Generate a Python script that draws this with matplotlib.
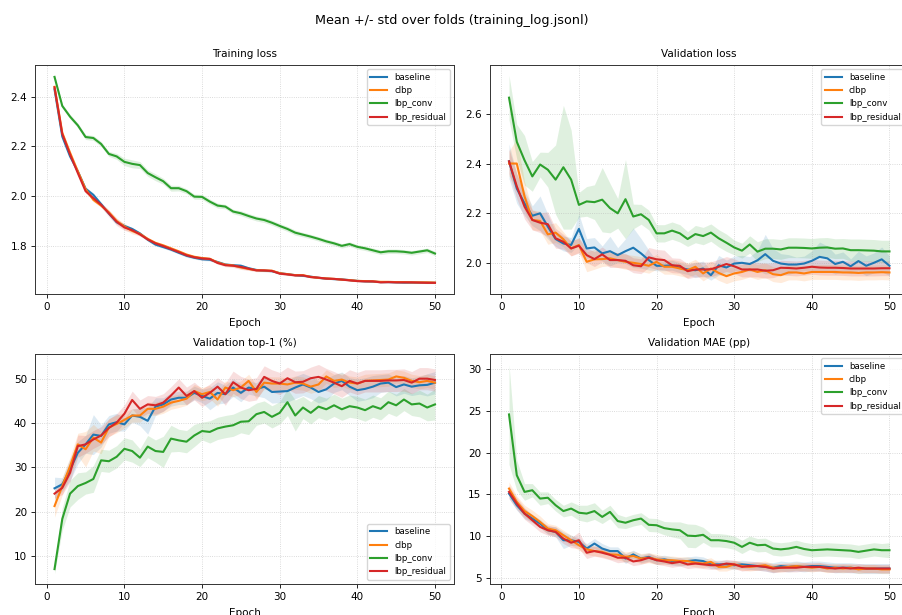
import numpy as np
import matplotlib
matplotlib.use("Agg")
import matplotlib.pyplot as plt

# ! data (mean and std over folds)
epochs = np.arange(1, 51)
models = ["baseline", "clbp", "lbp_conv", "lbp_residual"]

train_loss_baseline = [2.430, 2.240, 2.160, 2.100, 2.030, 2.005, 1.968, 1.930, 1.895, 1.880,
                       1.868, 1.850, 1.825, 1.805, 1.795, 1.785, 1.772, 1.760, 1.752, 1.746,
                       1.744, 1.735, 1.725, 1.722, 1.720, 1.710, 1.703, 1.700, 1.698, 1.690,
                       1.686, 1.682, 1.679, 1.676, 1.671, 1.668, 1.666, 1.665, 1.662, 1.659,
                       1.657, 1.656, 1.654, 1.654, 1.653, 1.652, 1.652, 1.652, 1.652, 1.651]
train_loss_clbp = [2.440, 2.255, 2.175, 2.100, 2.028, 1.985, 1.962, 1.935, 1.900, 1.878,
                   1.860, 1.848, 1.828, 1.812, 1.802, 1.790, 1.778, 1.765, 1.756, 1.751,
                   1.748, 1.733, 1.724, 1.721, 1.713, 1.707, 1.702, 1.701, 1.700, 1.690,
                   1.686, 1.682, 1.682, 1.675, 1.671, 1.669, 1.667, 1.664, 1.662, 1.659,
                   1.658, 1.657, 1.655, 1.655, 1.654, 1.654, 1.653, 1.653, 1.653, 1.652]
train_loss_lbp_conv = [2.480, 2.363, 2.320, 2.285, 2.238, 2.234, 2.210, 2.170, 2.160, 2.138,
                       2.130, 2.125, 2.093, 2.076, 2.060, 2.032, 2.032, 2.020, 1.998, 1.997,
                       1.978, 1.962, 1.958, 1.938, 1.931, 1.920, 1.910, 1.904, 1.893, 1.880,
                       1.868, 1.853, 1.845, 1.837, 1.828, 1.818, 1.810, 1.800, 1.807, 1.796,
                       1.790, 1.782, 1.774, 1.778, 1.778, 1.776, 1.772, 1.777, 1.782, 1.769]
train_loss_lbp_residual = [2.438, 2.250, 2.168, 2.093, 2.020, 1.992, 1.965, 1.931, 1.897, 1.874,
                           1.863, 1.846, 1.826, 1.810, 1.799, 1.787, 1.775, 1.762, 1.754, 1.749,
                           1.747, 1.731, 1.722, 1.720, 1.715, 1.708, 1.701, 1.701, 1.699, 1.688,
                           1.685, 1.681, 1.681, 1.674, 1.672, 1.668, 1.667, 1.664, 1.661, 1.658,
                           1.657, 1.657, 1.653, 1.654, 1.653, 1.653, 1.653, 1.652, 1.651, 1.651]

train_std_baseline = [0.004, 0.006, 0.006, 0.006, 0.007, 0.008, 0.006, 0.007, 0.008, 0.007,
                      0.006, 0.006, 0.007, 0.006, 0.005, 0.006, 0.005, 0.006, 0.005, 0.005,
                      0.005, 0.005, 0.005, 0.005, 0.006, 0.005, 0.004, 0.004, 0.004, 0.004,
                      0.004, 0.004, 0.003, 0.003, 0.003, 0.003, 0.003, 0.003, 0.003, 0.003,
                      0.003, 0.003, 0.003, 0.003, 0.003, 0.003, 0.003, 0.003, 0.003, 0.003]
train_std_clbp = [0.005, 0.006, 0.007, 0.007, 0.008, 0.008, 0.007, 0.008, 0.010, 0.012,
                  0.012, 0.008, 0.007, 0.006, 0.006, 0.006, 0.005, 0.005, 0.005, 0.005,
                  0.005, 0.005, 0.005, 0.005, 0.005, 0.005, 0.004, 0.004, 0.004, 0.004,
                  0.004, 0.004, 0.003, 0.003, 0.003, 0.003, 0.003, 0.003, 0.003, 0.003,
                  0.003, 0.003, 0.003, 0.003, 0.003, 0.003, 0.003, 0.003, 0.003, 0.003]
train_std_lbp_conv = [0.006, 0.008, 0.009, 0.009, 0.010, 0.010, 0.010, 0.010, 0.012, 0.015,
                      0.016, 0.014, 0.013, 0.014, 0.012, 0.012, 0.011, 0.010, 0.010, 0.010,
                      0.010, 0.010, 0.009, 0.009, 0.010, 0.010, 0.010, 0.010, 0.010, 0.010,
                      0.010, 0.010, 0.009, 0.009, 0.009, 0.009, 0.009, 0.009, 0.009, 0.009,
                      0.009, 0.009, 0.009, 0.009, 0.009, 0.009, 0.009, 0.009, 0.009, 0.009]
train_std_lbp_residual = [0.005, 0.006, 0.006, 0.007, 0.008, 0.008, 0.010, 0.014, 0.015, 0.012,
                          0.008, 0.007, 0.006, 0.006, 0.006, 0.006, 0.005, 0.005, 0.005, 0.006,
                          0.006, 0.005, 0.006, 0.007, 0.010, 0.007, 0.005, 0.005, 0.004, 0.004,
                          0.004, 0.004, 0.003, 0.003, 0.003, 0.003, 0.003, 0.003, 0.003, 0.003,
                          0.003, 0.003, 0.003, 0.003, 0.003, 0.003, 0.003, 0.003, 0.003, 0.003]

val_loss_baseline = [2.410, 2.300, 2.240, 2.190, 2.200, 2.146, 2.096, 2.078, 2.072, 2.137,
                     2.058, 2.062, 2.038, 2.047, 2.031, 2.047, 2.061, 2.038, 2.011, 1.988,
                     1.988, 1.990, 1.980, 1.973, 1.970, 1.977, 1.950, 1.990, 1.981, 1.997,
                     2.000, 1.995, 2.010, 2.035, 2.008, 1.997, 1.993, 1.993, 1.997, 2.008,
                     2.024, 2.018, 1.995, 2.004, 1.986, 2.007, 1.988, 2.000, 2.014, 1.988]
val_loss_clbp = [2.401, 2.401, 2.268, 2.173, 2.169, 2.115, 2.122, 2.095, 2.058, 2.072,
                 2.004, 2.014, 2.015, 2.018, 2.011, 2.004, 2.000, 1.995, 1.988, 2.004,
                 1.984, 1.984, 1.977, 1.970, 1.984, 1.957, 1.977, 1.959, 1.946, 1.957,
                 1.963, 1.973, 1.963, 1.970, 1.954, 1.950, 1.961, 1.961, 1.957, 1.963,
                 1.963, 1.963, 1.963, 1.961, 1.961, 1.959, 1.961, 1.961, 1.962, 1.961]
val_loss_lbp_conv = [2.667, 2.489, 2.414, 2.349, 2.397, 2.376, 2.336, 2.386, 2.336, 2.234,
                     2.248, 2.245, 2.255, 2.221, 2.200, 2.257, 2.187, 2.196, 2.173, 2.119,
                     2.119, 2.130, 2.119, 2.096, 2.116, 2.108, 2.122, 2.099, 2.081, 2.062,
                     2.049, 2.074, 2.045, 2.057, 2.057, 2.054, 2.061, 2.061, 2.060, 2.058,
                     2.061, 2.062, 2.057, 2.058, 2.051, 2.051, 2.050, 2.049, 2.046, 2.046]
val_loss_lbp_residual = [2.410, 2.309, 2.227, 2.173, 2.162, 2.156, 2.099, 2.085, 2.058, 2.069,
                         2.031, 2.015, 2.034, 2.011, 2.011, 2.008, 1.990, 1.986, 2.022, 2.014,
                         2.011, 1.990, 1.988, 1.966, 1.973, 1.973, 1.974, 1.984, 1.995, 1.986,
                         1.973, 1.973, 1.973, 1.968, 1.970, 1.980, 1.979, 1.977, 1.980, 1.984,
                         1.981, 1.980, 1.980, 1.979, 1.977, 1.977, 1.977, 1.977, 1.978, 1.978]

val_std_baseline = [0.07, 0.06, 0.05, 0.04, 0.07, 0.05, 0.03, 0.03, 0.03, 0.06,
                    0.04, 0.04, 0.03, 0.06, 0.03, 0.05, 0.08, 0.06, 0.04, 0.02,
                    0.02, 0.02, 0.02, 0.02, 0.03, 0.03, 0.02, 0.04, 0.03, 0.03,
                    0.03, 0.03, 0.04, 0.08, 0.05, 0.04, 0.04, 0.03, 0.03, 0.04,
                    0.06, 0.05, 0.04, 0.04, 0.03, 0.04, 0.04, 0.04, 0.05, 0.04]
val_std_clbp = [0.05, 0.10, 0.06, 0.04, 0.04, 0.04, 0.04, 0.03, 0.03, 0.03,
                0.04, 0.04, 0.03, 0.03, 0.03, 0.03, 0.03, 0.03, 0.03, 0.03,
                0.03, 0.03, 0.03, 0.03, 0.03, 0.03, 0.03, 0.03, 0.03, 0.03,
                0.03, 0.03, 0.03, 0.03, 0.03, 0.03, 0.03, 0.03, 0.03, 0.03,
                0.03, 0.03, 0.03, 0.03, 0.03, 0.03, 0.03, 0.03, 0.03, 0.03]
val_std_lbp_conv = [0.09, 0.07, 0.10, 0.06, 0.05, 0.07, 0.14, 0.25, 0.20, 0.05,
                    0.06, 0.07, 0.13, 0.10, 0.06, 0.16, 0.05, 0.04, 0.04, 0.035,
                    0.035, 0.035, 0.035, 0.03, 0.035, 0.035, 0.035, 0.035, 0.035, 0.03,
                    0.03, 0.035, 0.04, 0.04, 0.04, 0.04, 0.04, 0.04, 0.04, 0.04,
                    0.04, 0.04, 0.04, 0.04, 0.045, 0.045, 0.045, 0.045, 0.045, 0.045]
val_std_lbp_residual = [0.05, 0.05, 0.05, 0.04, 0.04, 0.05, 0.04, 0.03, 0.03, 0.03,
                        0.03, 0.03, 0.03, 0.03, 0.03, 0.03, 0.03, 0.03, 0.04, 0.04,
                        0.04, 0.03, 0.03, 0.03, 0.03, 0.03, 0.03, 0.03, 0.03, 0.03,
                        0.03, 0.03, 0.03, 0.03, 0.03, 0.03, 0.03, 0.03, 0.03, 0.03,
                        0.03, 0.03, 0.03, 0.03, 0.03, 0.03, 0.03, 0.03, 0.03, 0.03]

top1_baseline = [25.3, 26.2, 29.5, 33.3, 35.2, 37.4, 37.1, 39.7, 40.2, 39.7,
                 41.7, 41.4, 40.5, 43.7, 44.2, 45.3, 45.7, 45.7, 46.8, 46.1,
                 45.5, 46.8, 46.5, 48.0, 46.8, 48.0, 47.6, 48.2, 47.0, 47.1,
                 47.2, 48.0, 48.7, 48.0, 47.0, 47.6, 48.9, 49.5, 48.2, 47.4,
                 47.7, 48.2, 48.9, 49.1, 48.1, 48.7, 48.2, 48.5, 48.6, 49.1]
top1_clbp = [21.3, 25.8, 30.3, 35.2, 34.1, 36.7, 35.6, 39.0, 39.8, 40.7,
             41.7, 41.7, 43.2, 43.2, 43.7, 44.6, 45.0, 45.5, 47.2, 46.5,
             47.0, 45.3, 48.0, 47.4, 48.0, 49.5, 47.0, 49.1, 48.9, 48.9,
             48.7, 49.1, 48.9, 48.2, 48.7, 50.5, 49.5, 49.8, 49.1, 48.9,
             49.5, 49.6, 49.7, 49.8, 50.5, 50.2, 49.5, 49.2, 49.5, 49.1]
top1_lbp_conv = [7.1, 18.4, 24.1, 25.8, 26.5, 27.4, 31.6, 31.4, 32.4, 34.2,
                 33.7, 32.2, 34.7, 33.7, 33.5, 36.5, 36.1, 35.8, 37.2, 38.2,
                 38.0, 38.8, 39.2, 39.5, 40.3, 40.4, 42.0, 42.5, 41.4, 42.3,
                 44.7, 41.7, 43.5, 42.3, 43.7, 43.1, 44.0, 43.1, 43.8, 43.5,
                 42.9, 43.8, 43.2, 44.7, 44.0, 45.3, 44.2, 44.4, 43.5, 44.2]
top1_lbp_residual = [24.1, 25.4, 28.8, 34.8, 35.2, 36.3, 37.2, 38.9, 40.1, 42.1,
                     45.2, 43.2, 44.2, 44.0, 44.6, 46.2, 48.0, 46.1, 47.2, 45.7,
                     46.8, 48.2, 46.5, 49.2, 48.0, 47.4, 47.7, 50.4, 49.5, 48.9,
                     50.1, 49.2, 49.3, 50.1, 50.4, 49.8, 49.1, 48.3, 49.5, 48.9,
                     49.5, 49.5, 49.5, 49.6, 49.6, 49.7, 49.1, 50.0, 50.0, 49.7]

top1_std_baseline = [2.5, 1.5, 2.5, 2.5, 2.0, 4.5, 2.5, 2.0, 2.0, 1.5,
                     1.5, 2.0, 3.0, 2.0, 1.5, 1.5, 1.5, 1.5, 1.5, 1.5,
                     2.5, 2.5, 2.0, 2.0, 2.0, 1.5, 1.5, 2.5, 2.5, 2.5,
                     2.5, 2.5, 2.5, 2.5, 2.5, 2.5, 2.0, 2.0, 2.0, 2.5,
                     2.5, 2.5, 2.0, 2.0, 2.0, 2.0, 2.0, 2.0, 2.5, 2.5]
top1_std_clbp = [2.5, 2.0, 2.0, 2.5, 4.0, 3.0, 2.5, 2.0, 2.0, 1.8,
                 1.5, 1.5, 1.5, 1.5, 1.5, 1.5, 1.5, 1.5, 1.5, 1.5,
                 1.5, 1.5, 1.5, 1.5, 1.5, 1.5, 1.5, 1.5, 1.5, 1.5,
                 1.5, 1.5, 1.5, 1.5, 1.5, 1.5, 1.5, 1.5, 1.5, 1.5,
                 1.5, 1.5, 1.5, 1.5, 1.5, 1.5, 1.5, 1.5, 1.5, 1.5]
top1_std_lbp_conv = [1.0, 2.5, 3.0, 3.0, 2.5, 3.0, 2.5, 2.5, 2.5, 2.5,
                     2.5, 2.0, 2.5, 2.5, 3.5, 3.0, 2.5, 2.5, 2.5, 2.0,
                     2.5, 2.5, 2.5, 2.5, 2.5, 3.0, 2.5, 2.5, 2.5, 2.5,
                     3.0, 3.5, 2.5, 2.5, 2.5, 2.5, 2.5, 2.5, 2.5, 2.5,
                     2.5, 2.5, 2.5, 2.5, 2.5, 2.5, 2.5, 3.0, 3.0, 3.5]
top1_std_lbp_residual = [1.0, 1.5, 2.0, 2.5, 2.0, 2.0, 2.0, 2.0, 2.0, 2.0,
                         2.0, 2.0, 2.0, 2.0, 2.0, 2.0, 2.0, 2.0, 2.0, 2.0,
                         2.0, 2.0, 2.5, 2.5, 2.5, 2.5, 2.5, 2.5, 2.5, 2.5,
                         2.5, 2.5, 2.5, 2.5, 2.8, 2.5, 2.5, 2.5, 2.5, 2.5,
                         2.5, 2.5, 2.5, 2.5, 2.5, 2.5, 2.5, 2.5, 2.5, 2.5]

mae_baseline = [15.1, 13.7, 12.7, 12.1, 11.5, 10.7, 10.5, 9.5, 9.5, 9.3,
                8.5, 9.1, 8.5, 8.2, 8.2, 7.3, 7.8, 7.3, 7.5, 7.1,
                7.2, 7.0, 6.9, 7.0, 7.1, 7.0, 6.6, 6.6, 6.6, 6.5,
                6.6, 6.5, 6.4, 6.3, 6.2, 6.4, 6.3, 6.4, 6.3, 6.4,
                6.4, 6.3, 6.2, 6.2, 6.2, 6.1, 6.1, 6.1, 6.1, 6.1]
mae_clbp = [15.7, 14.1, 13.0, 12.4, 11.7, 10.9, 10.7, 10.1, 9.5, 8.9,
            8.4, 8.2, 8.1, 7.8, 7.75, 7.5, 7.6, 7.3, 7.4, 7.2,
            7.1, 7.1, 7.0, 7.0, 6.8, 6.7, 6.9, 6.3, 6.3, 6.6,
            6.4, 6.3, 6.4, 6.5, 6.2, 6.2, 6.3, 6.4, 6.3, 6.2,
            6.3, 6.1, 6.2, 6.1, 6.2, 6.0, 6.1, 6.1, 6.0, 6.0]
mae_lbp_conv = [24.6, 17.3, 15.3, 15.5, 14.5, 14.6, 13.7, 13.0, 13.3, 12.8,
                12.7, 13.0, 12.3, 12.9, 11.8, 11.6, 11.9, 12.1, 11.35, 11.3,
                10.95, 10.8, 10.7, 10.05, 10.0, 10.15, 9.5, 9.5, 9.4, 9.2,
                8.7, 9.2, 8.9, 8.95, 8.5, 8.4, 8.5, 8.7, 8.45, 8.3,
                8.35, 8.4, 8.35, 8.3, 8.25, 8.1, 8.25, 8.4, 8.3, 8.3]
mae_lbp_residual = [15.3, 13.9, 12.7, 11.9, 11.1, 10.7, 10.5, 9.7, 9.2, 9.5,
                    8.0, 8.2, 8.0, 7.75, 7.4, 7.4, 6.95, 7.1, 7.4, 7.1,
                    6.95, 6.75, 6.9, 6.6, 6.7, 6.6, 6.5, 6.5, 6.7, 6.6,
                    6.3, 6.4, 6.4, 6.3, 6.1, 6.2, 6.2, 6.2, 6.3, 6.3,
                    6.3, 6.2, 6.1, 6.2, 6.1, 6.2, 6.1, 6.1, 6.1, 6.1]

mae_std_baseline = [0.6, 0.6, 0.6, 0.5, 0.5, 0.5, 0.6, 1.0, 0.6, 0.5,
                    0.6, 0.6, 0.6, 0.5, 0.5, 0.6, 0.5, 0.5, 0.5, 0.5,
                    0.5, 0.5, 0.5, 0.5, 0.5, 0.5, 0.5, 0.5, 0.5, 0.5,
                    0.5, 0.5, 0.5, 0.5, 0.6, 0.6, 0.6, 0.6, 0.6, 0.6,
                    0.6, 0.6, 0.6, 0.6, 0.6, 0.6, 0.6, 0.6, 0.6, 0.6]
mae_std_clbp = [0.8, 0.7, 0.7, 0.7, 0.7, 0.6, 0.6, 0.6, 0.6, 0.6,
                0.6, 0.6, 0.6, 0.6, 0.6, 0.6, 0.6, 0.6, 0.6, 0.6,
                0.5, 0.5, 0.5, 0.5, 0.5, 0.5, 0.5, 0.5, 0.5, 0.5,
                0.5, 0.5, 0.5, 0.5, 0.5, 0.5, 0.5, 0.5, 0.5, 0.5,
                0.5, 0.5, 0.5, 0.5, 0.5, 0.5, 0.5, 0.5, 0.5, 0.5]
mae_std_lbp_conv = [6.0, 1.8, 1.0, 0.8, 0.8, 0.7, 0.7, 0.7, 0.8, 0.9,
                    1.0, 1.0, 0.8, 0.8, 0.8, 0.7, 0.7, 0.7, 0.8, 0.8,
                    0.8, 0.9, 1.0, 1.4, 1.4, 0.9, 0.8, 0.8, 0.8, 0.8,
                    0.8, 0.8, 0.8, 0.8, 0.8, 0.8, 0.8, 0.8, 0.8, 0.8,
                    0.8, 0.8, 0.8, 0.8, 0.8, 0.8, 0.8, 0.8, 0.8, 0.9]
mae_std_lbp_residual = [0.8, 0.7, 0.7, 0.6, 0.6, 0.6, 0.6, 0.6, 0.6, 1.0,
                        0.7, 0.6, 0.6, 0.6, 0.6, 0.5, 0.5, 0.5, 0.5, 0.5,
                        0.5, 0.5, 0.5, 0.5, 0.5, 0.5, 0.5, 0.5, 0.5, 0.5,
                        0.5, 0.5, 0.5, 0.5, 0.5, 0.5, 0.5, 0.5, 0.5, 0.5,
                        0.5, 0.5, 0.5, 0.5, 0.5, 0.5, 0.5, 0.5, 0.5, 0.5]

panels = [
    ("Training loss", [train_loss_baseline, train_loss_clbp, train_loss_lbp_conv, train_loss_lbp_residual],
     [train_std_baseline, train_std_clbp, train_std_lbp_conv, train_std_lbp_residual], "upper right"),
    ("Validation loss", [val_loss_baseline, val_loss_clbp, val_loss_lbp_conv, val_loss_lbp_residual],
     [val_std_baseline, val_std_clbp, val_std_lbp_conv, val_std_lbp_residual], "upper right"),
    ("Validation top-1 (%)", [top1_baseline, top1_clbp, top1_lbp_conv, top1_lbp_residual],
     [top1_std_baseline, top1_std_clbp, top1_std_lbp_conv, top1_std_lbp_residual], "lower right"),
    ("Validation MAE (pp)", [mae_baseline, mae_clbp, mae_lbp_conv, mae_lbp_residual],
     [mae_std_baseline, mae_std_clbp, mae_std_lbp_conv, mae_std_lbp_residual], "upper right"),
]

# ! style: everything scaled down to the size of the reference
plt.rcParams.update({
    "font.size": 7.5,
    "axes.linewidth": 0.7,
    "axes.edgecolor": "#333333",
    "xtick.major.size": 2.6,
    "ytick.major.size": 2.6,
    "xtick.major.width": 0.6,
    "ytick.major.width": 0.6,
    "legend.fontsize": 6.2,
    "lines.linewidth": 1.5,
})

fig = plt.figure(figsize=(9.03, 6.15), dpi=100)
# axes boxes measured in pixels on the reference (right column runs off the edge)
W, H = 903, 615
boxes = [(35.5, 65, 418.5, 229), (490, 65, 418.5, 229),
         (35.5, 354, 418.5, 230), (490, 354, 418.5, 230)]

for (title, means, stds, loc), (x0, y0, w, h) in zip(panels, boxes):
    ax = fig.add_axes([x0 / W, 1 - (y0 + h) / H, w / W, h / H])
    for i, name in enumerate(models):
        m = np.array(means[i])
        s = np.array(stds[i])
        ax.plot(epochs, m, color=f"C{i}", label=name)
        ax.fill_between(epochs, m - s, m + s, color=f"C{i}", alpha=0.15, linewidth=0)
    ax.set_title(title, fontsize=7.5)
    ax.set_xlabel("Epoch")
    ax.grid(True, linestyle=":", linewidth=0.6, alpha=0.6)
    ax.legend(loc=loc)

fig.suptitle("Mean +/- std over folds (training_log.jsonl)", fontsize=9.2, y=0.978)
fig.savefig("out.png", dpi=100)
